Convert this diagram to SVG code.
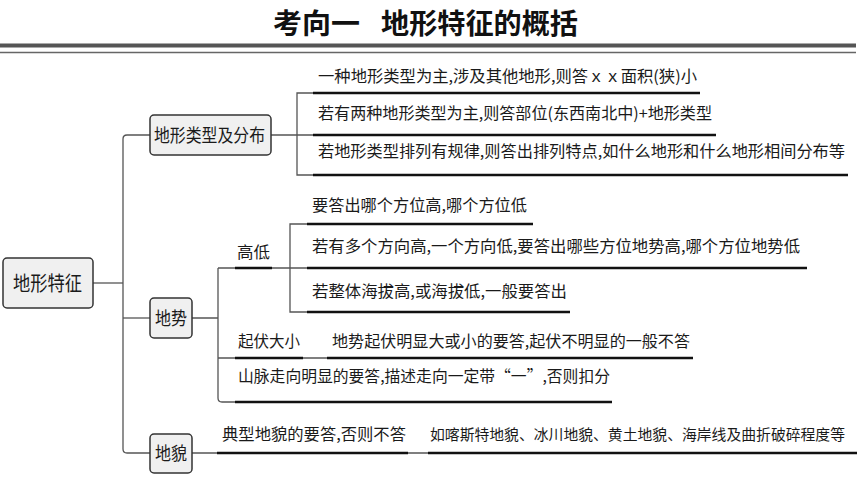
<svg xmlns="http://www.w3.org/2000/svg" width="860" height="484" viewBox="0 0 860 484">
<style>
.t{font-family:"Noto Sans CJK SC","Liberation Serif",serif;font-size:16px;fill:#1a1a1a}
.n{font-family:"Noto Sans CJK SC","Liberation Serif",serif;font-size:18px;fill:#1a1a1a}
.title{font-family:"Noto Sans CJK SC","Liberation Sans",sans-serif;font-size:28px;font-weight:700;fill:#111}
.box{fill:#f0f0f0;stroke:#333;stroke-width:1.5}
.c{fill:none;stroke:#555;stroke-width:1.3}
.u{fill:none;stroke:#111;stroke-width:2.4}
</style>
<rect width="860" height="484" fill="#fff"/>
<g id="header">
<text class="title" x="273" y="34" textLength="87" lengthAdjust="spacingAndGlyphs">考向一</text>
<text class="title" x="381" y="34" textLength="197" lengthAdjust="spacingAndGlyphs">地形特征的概括</text>
<line x1="0" y1="45.5" x2="856" y2="45.5" stroke="#555" stroke-width="4"/>
<line x1="0" y1="52.5" x2="856" y2="52.5" stroke="#666" stroke-width="1.5"/>
</g>
<g id="connectors">
<path class="c" d="M93,283 H123"/>
<path class="c" d="M150,135 H127 Q123,135 123,139 V449 Q123,453 127,453 H150"/>
<path class="c" d="M123,318 H150"/>
<path class="c" d="M271,135 H313 M313,93 H297 V175 H313"/>
<path class="c" d="M192,318 H218 M218,268 V398 Q218,402 222,402 H235 M218,268 H307 M307,224 H290 V312 H307 M218,358 H693"/>
<path class="c" d="M192,453 H857"/>
</g>
<g id="underlines">
<path class="u" d="M313,93 H700 M313,135 H716 M313,175 H848"/>
<path class="u" d="M235,268 H272 M307,224 H533 M307,268 H807 M307,312 H570"/>
<path class="u" d="M235,358 H303 M327,358 H693 M235,402 H612"/>
<path class="u" d="M217,453 H408 M428,453 H857"/>
</g>
<g id="root">
<rect class="box" x="3" y="258" width="90" height="50" rx="4"/>
<text class="n" style="font-size:20px" x="13" y="290.5" textLength="69" lengthAdjust="spacingAndGlyphs">地形特征</text>
</g>
<g id="node-distribution">
<rect class="box" x="150" y="115" width="121" height="40" rx="4"/>
<text class="n" x="154" y="141.8" textLength="111" lengthAdjust="spacingAndGlyphs">地形类型及分布</text>
</g>
<g id="node-distribution-items">
<text class="t" x="318" y="81.5" textLength="379" lengthAdjust="spacingAndGlyphs">一种地形类型为主,涉及其他地形,则答ｘｘ面积(狭)小</text>
<text class="t" x="318" y="119" textLength="394" lengthAdjust="spacingAndGlyphs">若有两种地形类型为主,则答部位(东西南北中)+地形类型</text>
<text class="t" x="318" y="156.5" textLength="527" lengthAdjust="spacingAndGlyphs">若地形类型排列有规律,则答出排列特点,如什么地形和什么地形相间分布等</text>
</g>
<g id="node-terrain">
<rect class="box" x="150" y="298" width="42" height="40" rx="4"/>
<text class="n" x="155" y="325" textLength="32" lengthAdjust="spacingAndGlyphs">地势</text>
</g>
<g id="node-height">
<text class="t" x="237" y="258" textLength="33" lengthAdjust="spacingAndGlyphs">高低</text>
<text class="t" x="312" y="210.5" textLength="215" lengthAdjust="spacingAndGlyphs">要答出哪个方位高,哪个方位低</text>
<text class="t" x="312" y="251.5" textLength="488" lengthAdjust="spacingAndGlyphs">若有多个方向高,一个方向低,要答出哪些方位地势高,哪个方位地势低</text>
<text class="t" x="312" y="296.5" textLength="255" lengthAdjust="spacingAndGlyphs">若整体海拔高,或海拔低,一般要答出</text>
</g>
<g id="node-relief">
<text class="t" x="238" y="346.5" textLength="62" lengthAdjust="spacingAndGlyphs">起伏大小</text>
<text class="t" x="332" y="346.5" textLength="358" lengthAdjust="spacingAndGlyphs">地势起伏明显大或小的要答,起伏不明显的一般不答</text>
</g>
<g id="node-mountain">
<text class="t" x="238" y="381.5" textLength="372" lengthAdjust="spacingAndGlyphs">山脉走向明显的要答,描述走向一定带“一”,否则扣分</text>
</g>
<g id="node-landform">
<rect class="box" x="150" y="434" width="42" height="39" rx="4"/>
<text class="n" x="155" y="460" textLength="32" lengthAdjust="spacingAndGlyphs">地貌</text>
<text class="t" x="222" y="440" textLength="184" lengthAdjust="spacingAndGlyphs">典型地貌的要答,否则不答</text>
<text class="t" style="font-size:15px" x="430" y="440" textLength="415" lengthAdjust="spacingAndGlyphs">如喀斯特地貌、冰川地貌、黄土地貌、海岸线及曲折破碎程度等</text>
</g>
</svg>
